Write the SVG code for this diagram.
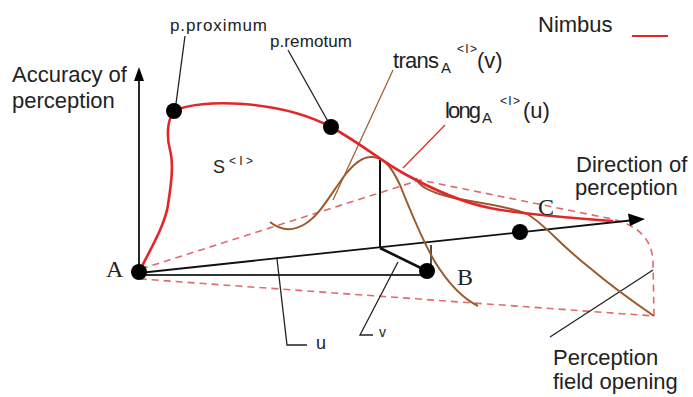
<svg xmlns="http://www.w3.org/2000/svg" width="693" height="397" viewBox="0 0 693 397">
<style>
.t{font-family:"Liberation Sans",Arial,sans-serif;font-size:22px;fill:#222}
.s{font-family:"Liberation Serif","Times New Roman",serif;font-size:24px;fill:#222}
.sm{font-size:12px}
.sub{font-size:15px}
.ld{fill:none;stroke:#222;stroke-width:1.3}
.nim{fill:none;stroke:#e3262a;stroke-width:2.6;stroke-linecap:round}
.br{fill:none;stroke:#9b5a2c;stroke-width:2}
.dash{fill:none;stroke:#e06a6e;stroke-width:1.6;stroke-dasharray:7 5}
.ax{fill:none;stroke:#111;stroke-width:1.8}
.dot{fill:#000}
</style>
<rect width="693" height="397" fill="#fff"/>

<g id="field">
<path class="dash" d="M141,269 L420,180 L612,219 C640,226 652,240 653,262 L654,316 L141,279"/>
</g>

<g id="connectors">
<line class="ax" x1="139" y1="272" x2="139" y2="79"/>
<polygon points="139,67 134,81 144,81" fill="#000"/>
<line class="ax" x1="139" y1="273" x2="630" y2="220.5"/>
<polygon points="645,219 628,213.5 630,226" fill="#000"/>
<line x1="139" y1="275" x2="427" y2="275" stroke="#333" stroke-width="2"/>
<line x1="380" y1="248" x2="380" y2="160" stroke="#111" stroke-width="2"/>
<line x1="380" y1="248" x2="427" y2="271" stroke="#111" stroke-width="2.6"/>
<line x1="431" y1="245" x2="431" y2="266" stroke="#111" stroke-width="1.5"/>
<polyline class="ld" points="277,259 287,345 307,345"/>
<polyline class="ld" points="398,262 360,335 373,335"/>
<line class="ld" x1="185" y1="36" x2="175" y2="111"/>
<line class="ld" x1="288" y1="50" x2="330" y2="125"/>
<line x1="393" y1="70" x2="333" y2="200" stroke="#9b5a2c" stroke-width="1.2"/>
<line x1="445" y1="125" x2="403" y2="168" stroke="#e3262a" stroke-width="1.2"/>
<line class="ld" x1="550" y1="337" x2="653" y2="270"/>
<line x1="632" y1="36" x2="668" y2="36" stroke="#e3262a" stroke-width="2"/>
</g>

<g id="curves">
<path class="br" d="M270,222 C280,230 292,232 305,224 C320,215 330,195 345,175 C355,162 365,156 373,157 C385,158 392,168 400,185 C410,210 422,240 435,262 C448,283 462,298 478,306"/>
<path class="br" d="M416,178 C418,186 430,192 450,197 C475,203 510,206 527,214 C545,224 560,245 590,268 C610,285 635,303 654,316"/>
<path class="nim" d="M139,272 C150,250 165,225 168,205 C171,185 174,165 170,150 C166,135 168,118 174,111 C200,98 280,100 331,127 C360,143 380,160 403,173 C430,188 460,202 490,208 C520,214 570,218 612,221"/>
</g>

<g id="A"><circle class="dot" cx="139" cy="272" r="8"/><text class="s" x="106" y="277">A</text></g>
<g id="B"><circle class="dot" cx="427" cy="271" r="8"/><text class="s" x="457" y="285">B</text></g>
<g id="C"><circle class="dot" cx="520" cy="232" r="8"/><text class="s" x="538" y="215">C</text></g>
<g id="p-proximum"><circle class="dot" cx="174" cy="111" r="8"/><text class="t" x="170" y="31" style="font-size:17px" textLength="97">p.proximum</text></g>
<g id="p-remotum"><circle class="dot" cx="331" cy="127" r="8"/><text class="t" x="270" y="47" style="font-size:17px" textLength="82">p.remotum</text></g>

<g id="labels">
<text class="t" x="12" y="82">Accuracy of</text>
<text class="t" x="12" y="108">perception</text>
<text class="t" x="213" y="173" style="font-size:18px">S</text>
<text class="t sm" x="229" y="165" textLength="24">&lt;I&gt;</text>
<text class="t" x="538" y="32">Nimbus</text>
<text class="t" x="393" y="68" textLength="46">trans</text>
<text class="t sub" x="441" y="73">A</text>
<text class="t sm" x="457" y="53" textLength="20">&lt;I&gt;</text>
<text class="t" x="477" y="68">(v)</text>
<text class="t" x="445" y="118" textLength="36">long</text>
<text class="t sub" x="482" y="123">A</text>
<text class="t sm" x="500" y="105" textLength="20">&lt;I&gt;</text>
<text class="t" x="523" y="118">(u)</text>
<text class="t" x="576" y="172">Direction of</text>
<text class="t" x="575" y="195">perception</text>
<text class="t" x="553" y="365">Perception</text>
<text class="t" x="553" y="389">field opening</text>
<text class="t" x="316" y="349" style="font-size:18px">u</text>
<text class="t" x="379" y="337" style="font-size:14px">v</text>
</g>
</svg>
